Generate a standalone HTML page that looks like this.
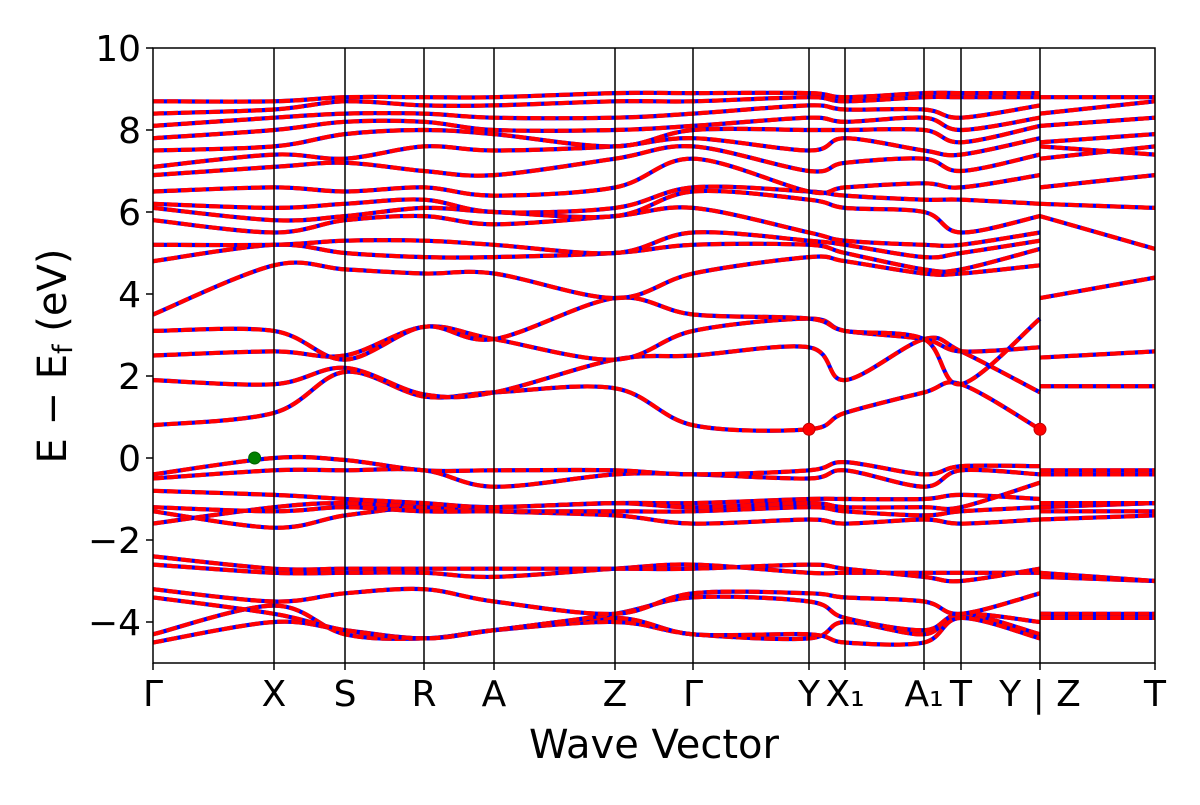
<!DOCTYPE html>
<html><head><meta charset="utf-8"><style>
body{margin:0;background:#fff;font-family:"Liberation Sans","DejaVu Sans",sans-serif}
svg text{font-family:"DejaVu Sans","Liberation Sans",sans-serif}
</style></head><body>
<svg id="chart" width="1200" height="800" viewBox="0 0 1200 800" xmlns="http://www.w3.org/2000/svg">
<g id="bands"></g>
<g id="axes"></g>
</svg>
<script>
const kLabels=["Γ","X","S","R","A","Z","Γ","Y","X₁","A₁","T","Y | Z","T"];
const kPos=[0,1,2,3,4,5,6,7,8,9,10,11,12];
const kPix=[153,274,345,424,494,615,693,809,845,924,961,1040,1155];
const yTicks=[-4,-2,0,2,4,6,8,10];
// each band: 12 values Γ..Y, then 2 values Z..T (after break)
const bands=[
[-4.5,-4.0,-4.2,-4.4,-4.2,-4.0,-4.3,-4.4,-4.0,-4.3,-3.8,-4.3,-3.8,-3.85],
[-4.3,-3.6,-4.3,-4.4,-4.2,-3.9,-4.3,-4.3,-4.5,-4.5,-3.9,-4.4,-3.9,-3.9],
[-3.4,-3.8,-4.2,-4.4,-4.2,-3.8,-3.4,-3.5,-3.9,-4.2,-3.8,-4.0,-3.8,-3.8],
[-3.2,-3.5,-3.3,-3.2,-3.5,-3.8,-3.3,-3.3,-3.4,-3.5,-3.8,-3.3,-3.9,-3.9],
[-2.6,-2.8,-2.8,-2.8,-2.9,-2.7,-2.6,-2.8,-2.8,-2.8,-2.8,-2.8,-2.9,-3.0],
[-2.4,-2.7,-2.7,-2.7,-2.7,-2.7,-2.7,-2.6,-2.7,-2.9,-3.0,-2.7,-2.8,-3.0],
[-1.6,-1.2,-1.1,-1.2,-1.2,-1.1,-1.1,-1.0,-1.0,-1.0,-0.9,-1.0,-1.2,-1.1],
[-1.3,-1.7,-1.4,-1.2,-1.3,-1.4,-1.6,-1.5,-1.6,-1.5,-1.6,-1.5,-1.5,-1.4],
[-1.2,-1.3,-1.2,-1.3,-1.3,-1.3,-1.3,-1.2,-1.3,-1.4,-1.3,-1.2,-1.3,-1.3],
[-0.8,-0.9,-1.0,-1.1,-1.2,-1.1,-1.2,-1.1,-1.2,-1.2,-1.2,-0.6,-1.1,-1.1],
[-0.5,-0.3,-0.3,-0.3,-0.7,-0.4,-0.4,-0.5,-0.3,-0.7,-0.3,-0.4,-0.4,-0.4],
[-0.4,0.0,-0.05,-0.3,-0.3,-0.3,-0.4,-0.3,-0.1,-0.4,-0.2,-0.2,-0.3,-0.3],
[0.8,1.1,2.1,1.5,1.6,1.7,0.8,0.7,1.1,1.6,1.8,0.7,1.75,1.75],
[1.9,1.8,2.2,1.55,1.6,2.4,2.5,2.7,1.9,2.9,2.6,1.6,2.45,2.6],
[2.5,2.6,2.5,3.2,2.9,2.4,3.1,3.4,3.1,2.9,2.6,2.7,null,null],
[3.1,3.1,2.4,3.2,2.9,3.9,3.5,3.4,3.1,2.9,1.8,3.4,3.9,4.4],
[3.5,4.7,4.6,4.5,4.5,3.9,4.5,4.9,4.8,4.5,4.5,4.7,5.9,5.1],
[4.8,5.2,5.0,4.9,4.9,5.0,5.2,5.2,5.0,4.6,4.6,5.1,6.2,6.1],
[5.2,5.2,5.3,5.3,5.2,5.0,5.5,5.3,5.2,4.9,5.0,5.3,6.6,6.9],
[5.8,5.5,5.8,5.9,5.7,5.9,6.1,5.5,5.3,5.2,5.2,5.5,7.3,7.6],
[6.1,5.8,5.9,6.1,6.0,5.9,6.5,6.3,6.1,6.0,5.5,5.9,7.6,7.4],
[6.2,6.1,6.2,6.3,6.0,6.1,6.6,6.5,6.4,6.3,6.3,6.2,7.7,7.9],
[6.5,6.6,6.5,6.6,6.4,6.6,7.3,6.5,6.6,6.7,6.6,6.9,8.1,8.3],
[6.9,7.1,7.2,7.0,6.9,7.3,7.6,7.0,7.2,7.3,7.0,7.4,8.4,8.7],
[7.1,7.4,7.3,7.6,7.5,7.6,7.8,7.5,7.8,7.5,7.4,7.8,8.8,8.8],
[7.5,7.6,7.9,8.0,7.9,7.6,8.0,8.0,8.0,8.0,7.7,8.1,null,null],
[7.8,8.0,8.2,8.2,8.0,8.0,8.1,8.3,8.2,8.3,8.0,8.3,null,null],
[8.1,8.3,8.4,8.4,8.3,8.3,8.4,8.6,8.5,8.5,8.3,8.6,null,null],
[8.4,8.5,8.7,8.6,8.6,8.7,8.7,8.8,8.7,8.8,8.8,8.8,null,null],
[8.7,8.7,8.8,8.8,8.8,8.9,8.9,8.9,8.8,8.9,8.9,8.9,null,null]
];
const vbmPts=[[0.84,0.0]];
const cbmPts=[[7,0.7],[11,0.7]];
const L=153,R=1155,T=48,B=663,yMin=-5,yMax=10;
function yS(v){return T+(yMax-v)/(yMax-yMin)*(B-T);}
function xS(k){const i=Math.floor(k);if(i>=kPix.length-1)return kPix[kPix.length-1];return kPix[i]+(k-i)*(kPix[i+1]-kPix[i]);}
const NS="http://www.w3.org/2000/svg";
function mk(t,a,p){const e=document.createElementNS(NS,t);for(const k in a)e.setAttribute(k,a[k]);p.appendChild(e);return e;}
function pathFrom(pts){
 let d="M"+pts[0][0]+","+pts[0][1];
 for(let i=0;i<pts.length-1;i++){
  const p0=pts[Math.max(i-1,0)],p1=pts[i],p2=pts[i+1],p3=pts[Math.min(i+2,pts.length-1)];
  const c1=[p1[0]+(p2[0]-p0[0])/6,p1[1]+(p2[1]-p0[1])/6],c2=[p2[0]-(p3[0]-p1[0])/6,p2[1]-(p3[1]-p1[1])/6];
  d+=" C"+c1+" "+c2+" "+p2;
 }return d;}
const bg=document.getElementById('bands');
const cp=mk('clipPath',{id:'cl'},document.getElementById('chart'));
mk('rect',{x:L,y:T,width:R-L,height:B-T},cp);
bg.setAttribute('clip-path','url(#cl)');
bands.forEach((b,bi)=>{
 const segs=[[],[]];
 for(let i=0;i<12;i++)segs[0].push([xS(kPos[i]),yS(b[i])]);
 if(b[12]!=null){segs[1].push([xS(11),yS(b[12])]);segs[1].push([xS(12),yS(b[13])]);}
 segs.forEach(s=>{if(s.length<2)return;const d=pathFrom(s);
  const p1=mk('path',{d:d,fill:'none',stroke:'#0000ff','stroke-width':4.2},bg);
  
  
  const p2=mk('path',{d:d,fill:'none',stroke:'#ff0000','stroke-width':4.2,'stroke-dasharray':'11,3'},bg);
  
  
 });
});
const ax=document.getElementById('axes');
kPix.forEach((x,i)=>{if(i>0&&i<kPix.length-1){const l=mk('line',{x1:x,x2:x,y1:T,y2:B,stroke:'#000','stroke-width':1.5},ax);
 
 }});
vbmPts.forEach(p=>{const c=mk('circle',{cx:xS(p[0]),cy:yS(p[1]),r:6,fill:'#008000',stroke:'#006000'},ax);
 
 });
cbmPts.forEach(p=>{const c=mk('circle',{cx:xS(p[0]),cy:yS(p[1]),r:6,fill:'#ff0000',stroke:'#c00000'},ax);
 
 });
const fr=mk('rect',{x:L,y:T,width:R-L,height:B-T,fill:'none',stroke:'#000','stroke-width':1.5},ax);


yTicks.forEach(v=>{const y=yS(v);
 const l=mk('line',{x1:L-7,x2:L,y1:y,y2:y,stroke:'#000','stroke-width':1.5},ax);
 
 
 const t=mk('text',{x:L-12,y:y+13,'text-anchor':'end','font-size':36},ax);
 t.textContent=(v<0?'−'+(-v):''+v);
 
 });
kLabels.forEach((s,i)=>{const x=kPix[i];
 const l=mk('line',{x1:x,x2:x,y1:B,y2:B+7,stroke:'#000','stroke-width':1.5},ax);
 
 
 const t=mk('text',{x:x,y:B+43,'text-anchor':'middle','font-size':36},ax);
 t.textContent=s;
 
 });
const xl=mk('text',{x:654,y:758,'text-anchor':'middle','font-size':40},ax);
xl.textContent='Wave Vector';


const yl=mk('text',{x:0,y:0,'text-anchor':'middle','font-size':40,transform:'translate(66,356) rotate(-90)'},ax);
yl.innerHTML='E − E<tspan font-size="27" dy="6">f</tspan><tspan dy="-6"> (eV)</tspan>';


</script>
</body></html>
